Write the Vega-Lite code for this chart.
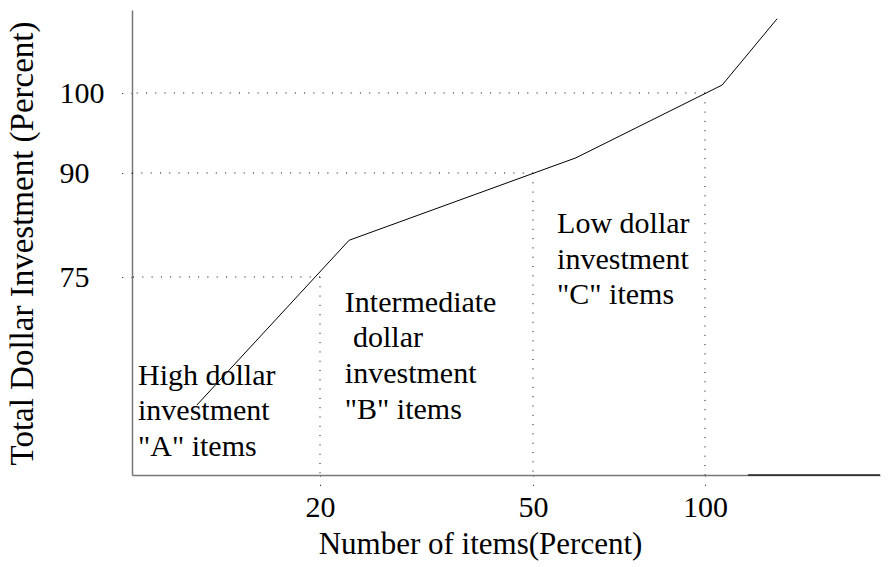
{
  "$schema": "https://vega.github.io/schema/vega-lite/v6.json",
  "width": 748,
  "height": 465,
  "autosize": {"type": "none"},
  "padding": {"left": 132, "top": 10, "right": 15, "bottom": 92},
  "background": "white",
  "config": {
    "view": {"stroke": null},
    "font": "Liberation Serif"
  },
  "datasets": {
    "curve": [
      {"items": 6.9, "invest": 26.5},
      {"items": 24.1, "invest": 80.3},
      {"items": 62.5, "invest": 91.9},
      {"items": 104.9, "invest": 101},
      {"items": 120.6, "invest": 109.3}
    ],
    "cuts": [
      {"items": 20, "invest": 75},
      {"items": 50, "invest": 90},
      {"items": 100, "invest": 100}
    ],
    "labels": [
      {"items": 0.64, "invest": 34.1, "label": "High dollar\ninvestment\n\"A\" items"},
      {"items": 23.5, "invest": 61.7, "label": "Intermediate"},
      {"items": 24.65, "invest": 48.3, "label": "dollar"},
      {"items": 23.5, "invest": 34.8, "label": "investment\n\"B\" items"},
      {"items": 57.0, "invest": 81.3, "label": "Low dollar\ninvestment\n\"C\" items"}
    ],
    "edge": [
      {"from": 112.3, "to": 150, "invest": 0}
    ]
  },
  "layer": [
    {
      "data": {"name": "cuts"},
      "mark": {"type": "rule", "color": "black", "strokeWidth": 1, "strokeDash": [1, 8.3]},
      "encoding": {
        "y": {"field": "invest", "type": "quantitative",
          "scale": {"domain": [0, 75, 90, 100, 110.4], "range": [465, 267, 163, 83, 0], "nice": false, "zero": false},
          "axis": {
            "values": [75, 90, 100],
            "title": "Total Dollar Investment (Percent)",
            "titleFont": "Liberation Serif",
            "titleFontSize": 33, "titleFontWeight": "normal", "titleColor": "black",
            "titleAngle": 270, "titleX": -100, "titleY": 233, "titleBaseline": "alphabetic", "titleAlign": "center",
            "labelFont": "Liberation Serif",
            "labelFontSize": 30, "labelColor": "black", "labelAlign": "left", "labelBaseline": "middle",
            "labelPadding": 58, "tickSize": 15, "tickColor": "black", "tickDash": [1, 8.3], "tickWidth": 1,
            "domainColor": "#777", "domainWidth": 1.5, "grid": false
          }
        },
        "x": {"field": "items", "type": "quantitative",
          "scale": {"domain": [0, 20, 50, 100, 150], "range": [0, 188, 401, 573, 748], "nice": false, "zero": false},
          "axis": {
            "values": [20, 50, 100],
            "title": "Number of items(Percent)",
            "titleFont": "Liberation Serif",
            "titleFontSize": 31, "titleFontWeight": "normal", "titleColor": "black",
            "titleX": 348, "titleY": 78, "titleBaseline": "alphabetic", "titleAlign": "center",
            "labelFont": "Liberation Serif",
            "labelFontSize": 30, "labelColor": "black", "labelPadding": 5,
            "tickSize": 12, "tickColor": "black", "tickDash": [1, 8.3], "tickWidth": 1,
            "domainColor": "#777", "domainWidth": 1.5, "grid": false
          }
        },
        "x2": {"datum": 0}
      }
    },
    {
      "data": {"name": "cuts"},
      "mark": {"type": "rule", "color": "black", "strokeWidth": 1, "strokeDash": [1, 8.3]},
      "encoding": {
        "x": {"field": "items", "type": "quantitative"},
        "y": {"field": "invest", "type": "quantitative"},
        "y2": {"datum": 0}
      }
    },
    {
      "data": {"name": "edge"},
      "mark": {"type": "rule", "color": "#222", "strokeWidth": 1.5},
      "encoding": {
        "x": {"field": "from", "type": "quantitative"},
        "x2": {"field": "to"},
        "y": {"field": "invest", "type": "quantitative"}
      }
    },
    {
      "data": {"name": "curve"},
      "mark": {"type": "line", "color": "black", "strokeWidth": 1},
      "encoding": {
        "x": {"field": "items", "type": "quantitative"},
        "y": {"field": "invest", "type": "quantitative"}
      }
    },
    {
      "data": {"name": "labels"},
      "mark": {"type": "text", "align": "left", "baseline": "alphabetic", "font": "Liberation Serif", "fontSize": 30, "lineHeight": 35.5, "lineBreak": "\n", "color": "black"},
      "encoding": {
        "x": {"field": "items", "type": "quantitative"},
        "y": {"field": "invest", "type": "quantitative"},
        "text": {"field": "label"}
      }
    }
  ]
}
